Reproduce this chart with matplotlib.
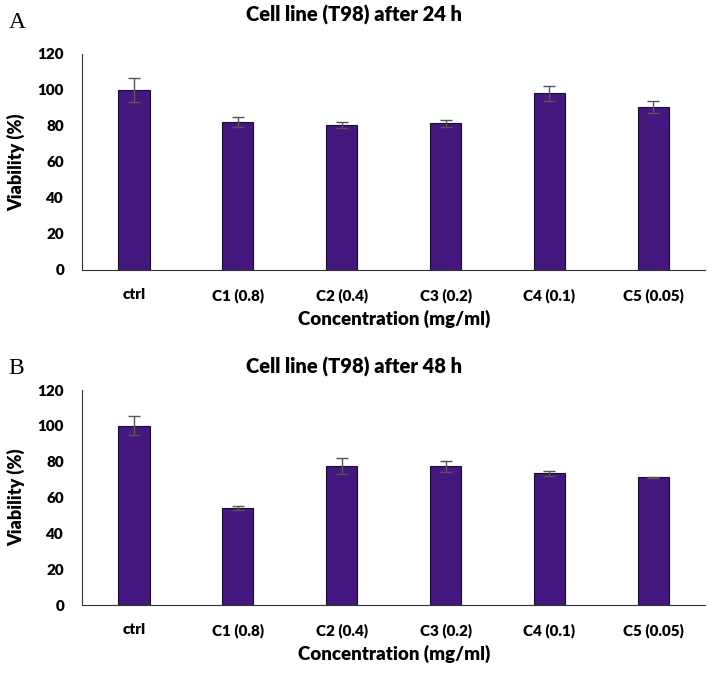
import numpy as np
import matplotlib.pyplot as plt

# --------------------------------------------------
# Data
# --------------------------------------------------
categories = ["ctrl", "C1 (0.8)", "C2 (0.4)", "C3 (0.2)", "C4 (0.1)", "C5 (0.05)"]

viab_24h = [100, 82, 80.5, 81.5, 98, 90.5]
err_24h = [6.5, 2.8, 1.5, 2.0, 4.0, 3.5]

viab_48h = [100, 54, 77.5, 77.5, 73.5, 71.2]
err_48h = [5.3, 1.2, 4.4, 3.0, 1.4, 0.5]

panel_titles = ["Cell line (T98) after 24 h", "Cell line (T98) after 48 h"]
panel_letters = ["A", "B"]

# --------------------------------------------------
# Plot
# --------------------------------------------------
plt.rcParams["font.family"] = ["Lato", "DejaVu Sans"]

fig = plt.figure(figsize=(7.08, 6.73), dpi=100)
ax_top = fig.add_axes([0.116, 0.599, 0.88, 0.321])
ax_bot = fig.add_axes([0.116, 0.101, 0.88, 0.3195])

bar_color = "#45187f"
x = np.arange(len(categories))

panels = [
    (ax_top, viab_24h, err_24h, 0.978, 0.966),
    (ax_bot, viab_48h, err_48h, 0.455, 0.452),
]

for i, (ax, vals, errs, ty, ly) in enumerate(panels):
    ax.bar(x, vals, width=0.30, color=bar_color, edgecolor="#1a0a2e",
           linewidth=0.8, zorder=2)
    ax.errorbar(x, vals, yerr=errs, fmt="none", ecolor="#555555",
                elinewidth=1.0, capsize=4, capthick=1.0, zorder=3)

    ax.set_xlim(-0.5, 5.5)
    ax.set_ylim(0, 120)
    ax.set_yticks(range(0, 121, 20))
    ax.set_xticks(x)
    ax.set_xticklabels(categories)
    ax.tick_params(axis="both", length=0, labelsize=11)
    ax.tick_params(axis="y", pad=13)
    ax.tick_params(axis="x", pad=13)
    for lbl in ax.get_xticklabels() + ax.get_yticklabels():
        lbl.set_fontweight("heavy")

    ax.spines["top"].set_visible(False)
    ax.spines["right"].set_visible(False)
    ax.spines["left"].set_color("#333333")
    ax.spines["bottom"].set_color("#333333")

    ax.set_ylabel("Viability (%)", fontsize=13, fontweight="heavy", labelpad=9)
    ax.set_xlabel("Concentration (mg/ml)", fontsize=13.5, fontweight="heavy", labelpad=5)

    fig.text(0.5, ty, panel_titles[i], ha="center", va="center",
             fontsize=14.5, fontweight="heavy")
    fig.text(0.012, ly, panel_letters[i], ha="left", va="center",
             fontsize=17, family="Liberation Serif")

plt.savefig("out.png", dpi=100)
